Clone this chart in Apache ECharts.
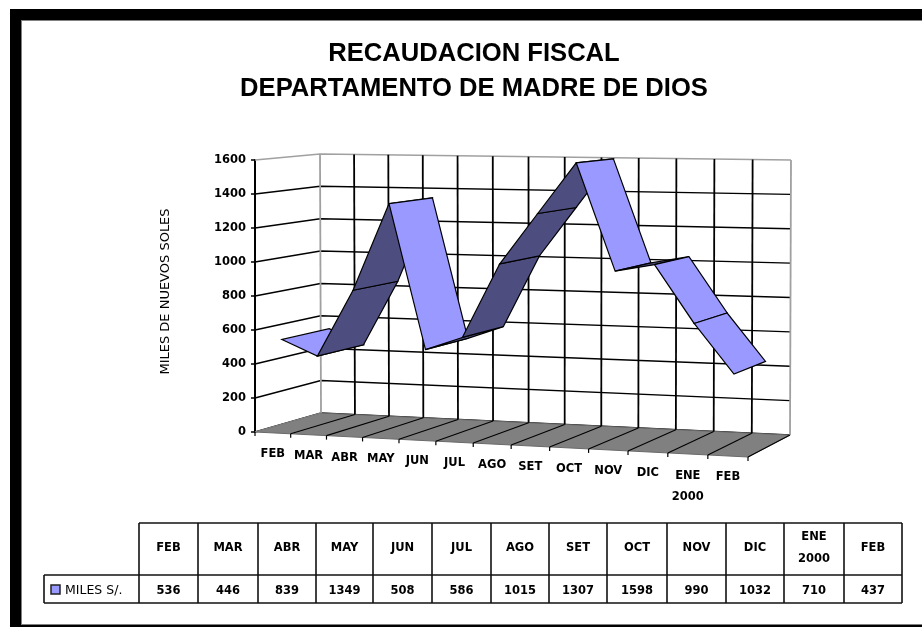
<!DOCTYPE html>
<html>
<head>
<meta charset="utf-8">
<title>Recaudacion fiscal</title>
<style>
    html, body { margin: 0; padding: 0; background: #fff; }
    #chart { width: 922px; height: 627px; }
</style>
<script src="https://cdn.jsdelivr.net/npm/echarts@6/dist/echarts.min.js"></script>
</head>
<body>
<div id="chart"></div>
<script>
// data
const months = ['FEB', 'MAR', 'ABR', 'MAY', 'JUN', 'JUL', 'AGO', 'SET', 'OCT', 'NOV', 'DIC', 'ENE\n2000', 'FEB'];
const milesSoles = [536, 446, 839, 1349, 508, 586, 1015, 1307, 1598, 990, 1032, 710, 437];
const yTicks = [0, 200, 400, 600, 800, 1000, 1200, 1400, 1600];
const seriesName = 'MILES S/.';

// layout
const rect = { x: 255, y: 160, w: 493, h: 272 };
// box corners: front plane (d=0) and back wall (d=1)
const corners = {
    f00: [255, 432], f10: [748, 457], f01: [255, 160], f11: [748, 165],
    b00: [321, 413], b10: [790, 435], b01: [320, 154], b11: [791, 160]
};
const ribbonFront = 0.14;
const ribbonBack = 0.87;
const perspectiveBend = 0.019;
const tableEdges = [139, 198, 258, 316, 373, 432, 491, 549, 607, 667, 726, 784, 844, 902];
const labelFont = 'bold 11.5px "DejaVu Sans"';

function mix(a, b, k) {
    return [a[0] + (b[0] - a[0]) * k, a[1] + (b[1] - a[1]) * k];
}
// u: along the months, t: up the value axis, d: depth
function warp(u, t, d) {
    // months are not evenly spaced in the 3D view, the middle ones sit further left
    let bent = u - perspectiveBend * Math.sin(Math.PI * u);
    let front = mix(mix(corners.f00, corners.f10, bent), mix(corners.f01, corners.f11, bent), t);
    let back = mix(mix(corners.b00, corners.b10, bent), mix(corners.b01, corners.b11, bent), t);
    return mix(front, back, d);
}
// axis value -> pixel of the flat grid -> pixel of the 3D box
function project(api, index, value, d, bandOffset) {
    let p = api.coord([index, value]);
    let u = (p[0] + (bandOffset || 0) * api.size([1, 0])[0] - rect.x) / rect.w;
    let t = (rect.y + rect.h - p[1]) / rect.h;
    return warp(u, t, d);
}

function renderFloor(params, api) {
    let last = months.length - 1;
    return {
        type: 'polygon',
        shape: { points: [
            project(api, 0, 0, 0, -0.5), project(api, last, 0, 0, 0.5),
            project(api, last, 0, 1, 0.5), project(api, 0, 0, 1, -0.5)
        ] },
        style: { fill: '#808080', stroke: '#6a6a6a', lineWidth: 1 }
    };
}
// horizontal lines on the side wall and back wall
function renderGridH(params, api) {
    let v = api.value(1);
    let last = months.length - 1;
    return {
        type: 'polyline',
        shape: { points: [
            project(api, 0, v, 0, -0.5), project(api, 0, v, 1, -0.5), project(api, last, v, 1, 0.5)
        ] },
        style: { fill: null, stroke: v === 1600 ? '#a0a0a0' : '#000', lineWidth: 1.5 }
    };
}
// vertical lines on the back wall, depth lines and ticks on the floor
function renderGridV(params, api) {
    let i = api.value(0);
    let edge = params.dataIndex === months.length ? 0.5 : -0.5;
    if (edge > 0) { i = months.length - 1; }
    let outer = params.dataIndex === 0 || params.dataIndex === months.length;
    let front = project(api, i, 0, 0, edge);
    return {
        type: 'group',
        children: [{
            type: 'line',
            shape: lineShape(project(api, i, 0, 1, edge), project(api, i, 1600, 1, edge)),
            style: { stroke: outer ? '#a0a0a0' : '#000', lineWidth: 1.8 }
        }, {
            type: 'line',
            shape: lineShape(front, project(api, i, 0, 1, edge)),
            style: { stroke: params.dataIndex === 0 ? '#808080' : '#000', lineWidth: 1.1 }
        }, {
            type: 'line',
            shape: lineShape(front, [front[0], front[1] + 4]),
            style: { stroke: '#000', lineWidth: 1.2 }
        }]
    };
}
function lineShape(a, b) {
    return { x1: a[0], y1: a[1], x2: b[0], y2: b[1] };
}
function renderMonthLabel(params, api) {
    let p = project(api, params.dataIndex, 0, 0);
    let twoLines = months[params.dataIndex].indexOf('\n') > -1;
    return {
        type: 'text',
        style: {
            x: p[0], y: p[1] + 21,
            text: months[params.dataIndex],
            font: labelFont,
            lineHeight: 21,
            fill: '#000',
            align: 'center',
            verticalAlign: twoLines ? 'top' : 'middle'
        },
        y: twoLines ? -9 : 0
    };
}
// one ribbon section from month i to month i+1; rising sections show the dark underside
function renderRibbon(params, api) {
    let i = params.dataIndex;
    if (i >= milesSoles.length - 1) { return null; }
    let a = milesSoles[i], b = milesSoles[i + 1];
    return {
        type: 'polygon',
        shape: { points: [
            project(api, i, a, ribbonFront), project(api, i + 1, b, ribbonFront),
            project(api, i + 1, b, ribbonBack), project(api, i, a, ribbonBack)
        ] },
        style: { fill: b > a ? '#4d4d80' : '#9999ff', stroke: '#000', lineWidth: 1.2 }
    };
}

// table under the chart
function tableGraphic() {
    const top = 523, mid = 575, bottom = 603, left = 44;
    const stroke = { stroke: '#111', lineWidth: 1.6 };
    let items = [];
    function hline(x1, x2, y) {
        items.push({ type: 'line', shape: { x1: x1, y1: y, x2: x2, y2: y }, style: stroke });
    }
    function vline(x, y1, y2) {
        items.push({ type: 'line', shape: { x1: x, y1: y1, x2: x, y2: y2 }, style: stroke });
    }
    function text(str, x, y, align, font) {
        items.push({ type: 'text', style: {
            x: x, y: y, text: str, font: font || labelFont, fill: '#000', lineHeight: 22,
            align: align || 'center', verticalAlign: 'middle'
        } });
    }
    hline(tableEdges[0], tableEdges[13], top);
    hline(left, tableEdges[13], mid);
    hline(left, tableEdges[13], bottom);
    vline(left, mid, bottom);
    tableEdges.forEach(function (x) { vline(x, top, bottom); });
    months.forEach(function (m, i) {
        let cx = (tableEdges[i] + tableEdges[i + 1]) / 2;
        text(m, cx, 548);
        text(String(milesSoles[i]), cx, 591);
    });
    items.push({
        type: 'rect', shape: { x: 51, y: 585, width: 9, height: 9 },
        style: { fill: '#9999ff', stroke: '#222', lineWidth: 1.5 }
    });
    text(seriesName, 65, 591, 'left', '12.5px "DejaVu Sans"');
    return items;
}

// black frame of the original picture
const frame = [
    { type: 'rect', shape: { x: 10, y: 9, width: 912, height: 11 }, style: { fill: '#000' } },
    { type: 'rect', shape: { x: 10, y: 9, width: 11, height: 618 }, style: { fill: '#000' } },
    { type: 'rect', shape: { x: 10, y: 625, width: 912, height: 2 }, style: { fill: '#000' } },
    { type: 'rect', shape: { x: 21, y: 20, width: 901, height: 1 }, style: { fill: '#808080' } },
    { type: 'rect', shape: { x: 21, y: 20, width: 1, height: 605 }, style: { fill: '#808080' } },
    { type: 'rect', shape: { x: 21, y: 624, width: 901, height: 1 }, style: { fill: '#808080' } }
];

let myChart = echarts.init(document.getElementById('chart'));
let customBase = { type: 'custom', coordinateSystem: 'cartesian2d', silent: true };
let option = {
    animation: false,
    backgroundColor: '#fff',
    title: {
        text: 'RECAUDACION FISCAL\nDEPARTAMENTO DE MADRE DE DIOS',
        left: 469,
        top: 31,
        textAlign: 'center',
        textStyle: {
            fontFamily: '"Liberation Sans"',
            fontWeight: 'bold',
            fontSize: 25.6,
            lineHeight: 35,
            color: '#000'
        }
    },
    grid: { left: rect.x, top: rect.y, width: rect.w, height: rect.h },
    xAxis: { type: 'category', show: false, data: months.map(function (m, i) { return i; }) },
    yAxis: {
        type: 'value',
        min: 0,
        max: 1600,
        interval: 200,
        name: 'MILES DE NUEVOS SOLES',
        nameLocation: 'middle',
        nameGap: 83,
        nameTextStyle: { fontFamily: '"DejaVu Sans"', fontSize: 13, color: '#000', padding: [0, 0, 0, 9] },
        axisLine: { show: true, lineStyle: { color: '#000', width: 2 } },
        axisTick: { show: true, length: 4, lineStyle: { color: '#000', width: 1.5 } },
        axisLabel: {
            color: '#000',
            fontFamily: '"DejaVu Sans"',
            fontWeight: 'bold',
            fontSize: 11.5,
            margin: 9,
            formatter: function (v) { return String(v); }
        },
        splitLine: { show: false }
    },
    series: [
        Object.assign({}, customBase, { name: 'grid', z: 2, renderItem: renderGridH, data: yTicks.map(function (v) { return [0, v]; }) }),
        Object.assign({}, customBase, { name: 'floor', z: 3, renderItem: renderFloor, data: [[0, 0]] }),
        Object.assign({}, customBase, { name: 'columns', z: 4, renderItem: renderGridV, data: months.map(function (m, i) { return [i, 0]; }).concat([[months.length - 1, 0]]) }),
        Object.assign({}, customBase, { name: seriesName, z: 5, renderItem: renderRibbon, data: milesSoles.map(function (v, i) { return [i, v]; }) }),
        Object.assign({}, customBase, { name: 'months', z: 6, renderItem: renderMonthLabel, data: months.map(function (m, i) { return [i, 0]; }) })
    ],
    graphic: frame.concat(tableGraphic())
};
myChart.setOption(option);
</script>
</body>
</html>
